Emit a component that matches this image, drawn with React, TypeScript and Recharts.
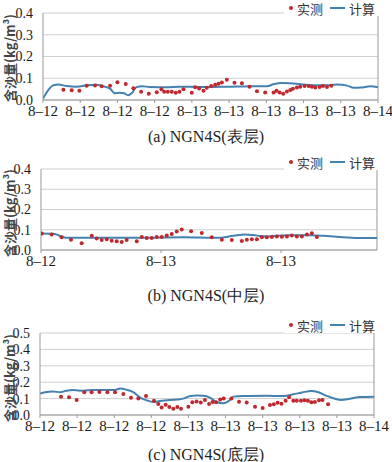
import React from 'react';
import { ComposedChart, Line, Scatter, XAxis, YAxis, CartesianGrid, ReferenceLine } from 'recharts';

// hours since 8-12 00:00, concentration kg/m3
const calcA = [
  [0, 0.007], [1.5, 0.068], [2.2, 0.071], [3.4, 0.064], [4.8, 0.061], [6.3, 0.068], [7.7, 0.07],
  [8.65, 0.063], [9.6, 0.052], [10.3, 0.031], [11.0, 0.033], [11.6, 0.031], [12.2, 0.022], [12.7, 0.031],
  [13.4, 0.059], [14.2, 0.063], [15.3, 0.06], [17.7, 0.059], [19.6, 0.061], [22.5, 0.06], [26.3, 0.061],
  [30.2, 0.063], [32.1, 0.063], [33.0, 0.072], [34.2, 0.078], [35.4, 0.077], [36.9, 0.072], [38.8, 0.068],
  [40.7, 0.068], [42.1, 0.071], [43.6, 0.066], [44.5, 0.056], [45.5, 0.057], [46.9, 0.063], [48, 0.059],
].map(([t, v]) => ({ t, v }));

const obsA = [
  [2.92, 0.047], [4.11, 0.045], [5.21, 0.042], [6.26, 0.066], [7.46, 0.067], [8.41, 0.063], [9.61, 0.066],
  [10.66, 0.082], [11.86, 0.074], [12.95, 0.054], [14.06, 0.038], [15.16, 0.029], [16.3, 0.036], [16.97, 0.049],
  [17.36, 0.038], [17.88, 0.038], [18.45, 0.038], [19.03, 0.033], [19.55, 0.038], [20.13, 0.05], [21.32, 0.033],
  [21.8, 0.059], [22.37, 0.053], [23.0, 0.043], [23.47, 0.056], [24.1, 0.064], [24.67, 0.07], [25.15, 0.075],
  [25.63, 0.081], [26.34, 0.093], [27.44, 0.079], [28.5, 0.077], [29.6, 0.061], [30.65, 0.04], [31.84, 0.035],
  [33.04, 0.035], [33.47, 0.042], [33.9, 0.035], [34.42, 0.029], [34.95, 0.039], [35.43, 0.046], [35.81, 0.052],
  [36.38, 0.057], [36.86, 0.061], [37.48, 0.064], [38.06, 0.064], [38.53, 0.061], [39.01, 0.057], [39.63, 0.06],
  [40.11, 0.064], [40.69, 0.06], [41.31, 0.066],
].map(([t, v]) => ({ t, v }));

const calcB = [
  [0, 0.081], [1.03, 0.08], [1.45, 0.073], [2.14, 0.06], [3.53, 0.06], [6.31, 0.06], [9.1, 0.061],
  [11.9, 0.063], [14.65, 0.06], [16.04, 0.07], [17.0, 0.077], [18.0, 0.071], [18.8, 0.067], [20.5, 0.073],
  [22.2, 0.073], [23.5, 0.07], [25.2, 0.063], [26.6, 0.059], [28, 0.059],
].map(([t, v]) => ({ t, v }));

const obsB = [
  [0.06, 0.081], [0.89, 0.076], [1.72, 0.063], [2.5, 0.051], [3.39, 0.033], [4.23, 0.07], [4.64, 0.057],
  [5.06, 0.05], [5.48, 0.053], [5.89, 0.046], [6.31, 0.043], [6.73, 0.039], [7.14, 0.05], [7.98, 0.043],
  [8.4, 0.064], [8.81, 0.059], [9.23, 0.059], [9.65, 0.064], [10.06, 0.064], [10.48, 0.071], [10.9, 0.079],
  [11.31, 0.091], [11.73, 0.101], [12.51, 0.093], [13.4, 0.084], [14.23, 0.063], [15.07, 0.051], [15.9, 0.049],
  [16.74, 0.044], [17.15, 0.051], [17.57, 0.053], [17.99, 0.053], [18.4, 0.063], [18.82, 0.063], [19.24, 0.064],
  [19.65, 0.067], [20.07, 0.066], [20.49, 0.067], [20.9, 0.071], [21.32, 0.067], [21.74, 0.067], [22.16, 0.076],
  [22.57, 0.083], [22.99, 0.064],
].map(([t, v]) => ({ t, v }));

const calcC = [
  [0, 0.13], [0.7, 0.139], [1.9, 0.143], [2.9, 0.139], [3.8, 0.148], [4.8, 0.152], [6.2, 0.148], [7.7, 0.153],
  [9.6, 0.152], [10.8, 0.153], [11.5, 0.161], [12.5, 0.153], [13.4, 0.139], [14.4, 0.106], [15.3, 0.09],
  [16.3, 0.079], [17.2, 0.085], [18.7, 0.092], [20.1, 0.096], [20.8, 0.103], [21.6, 0.116], [22.5, 0.119],
  [23.5, 0.117], [24.4, 0.106], [25.4, 0.079], [26.3, 0.072], [27.1, 0.085], [27.8, 0.112], [29.2, 0.116],
  [32.6, 0.117], [35.0, 0.116], [36.4, 0.126], [37.8, 0.139], [39.0, 0.146], [40.0, 0.139], [41.2, 0.117],
  [42.4, 0.099], [43.3, 0.092], [44.5, 0.099], [46.0, 0.11], [48, 0.112],
].map(([t, v]) => ({ t, v }));

const obsC = [
  [3.02, 0.112], [4.17, 0.108], [5.27, 0.092], [6.37, 0.139], [7.42, 0.139], [8.53, 0.141], [9.68, 0.139],
  [10.78, 0.139], [11.98, 0.128], [13.08, 0.105], [14.13, 0.101], [15.23, 0.116], [16.38, 0.087], [17.0, 0.067],
  [17.48, 0.045], [18.06, 0.063], [18.59, 0.049], [19.16, 0.038], [19.73, 0.049], [20.26, 0.038], [21.32, 0.051],
  [21.89, 0.078], [22.5, 0.083], [23.1, 0.076], [23.7, 0.092], [24.3, 0.067], [24.8, 0.079], [25.3, 0.078],
  [25.9, 0.094], [26.4, 0.101], [27.5, 0.101], [28.6, 0.081], [29.7, 0.076], [30.9, 0.051], [32.0, 0.043],
  [33.05, 0.061], [33.6, 0.065], [34.15, 0.074], [34.7, 0.069], [35.3, 0.087], [35.8, 0.108], [36.4, 0.087],
  [36.9, 0.087], [37.5, 0.087], [38.0, 0.09], [38.5, 0.087], [39.0, 0.078], [39.5, 0.079], [40.1, 0.09],
  [40.6, 0.092], [41.4, 0.065],
].map(([t, v]) => ({ t, v }));

const ticksFull = [0, 5.333, 10.667, 16, 21.333, 26.667, 32, 37.333, 42.667, 48];
const labelsFull = ['8–12', '8–12', '8–12', '8–12', '8–13', '8–13', '8–13', '8–13', '8–13', '8–14'];
const ticksB = [0, 10, 20];
const labelsB = ['8–12', '8–13', '8–13'];
const yTicks4 = [0, 0.1, 0.2, 0.3, 0.4];
const yTicks5 = [0, 0.1, 0.2, 0.3, 0.4, 0.5];

const LINE = '#4382b0';
const DOT = '#c0282e';
const SERIF = '"Liberation Serif", "DejaVu Serif", serif';
const CJK = '"Noto Sans CJK SC", sans-serif';

const dotShape = (p: any) => <circle cx={p.cx} cy={p.cy} r={2} fill={DOT} />;

const Panel = ({ top, height, marginTop, yWidth, right, xMax, ticks, labels, yTicks, calc, obs }: any) => (
  <div style={{ position: 'absolute', left: 0, top }}>
    <ComposedChart width={392} height={height} margin={{ top: marginTop, right, left: 0, bottom: 0 }}>
      <CartesianGrid vertical={false} stroke="#cfcfcf" />
      <XAxis
        type="number"
        dataKey="t"
        domain={[0, xMax]}
        ticks={ticks}
        interval={0}
        tickFormatter={(v: number) => labels[ticks.indexOf(v)]}
        tickSize={3}
        tickMargin={2}
        stroke="#999"
        tick={{ fill: '#1a1a1a', fontSize: 15, fontFamily: SERIF }}
        allowDataOverflow
      />
      <YAxis
        type="number"
        domain={[0, yTicks[yTicks.length - 1]]}
        ticks={yTicks}
        interval={0}
        width={yWidth}
        tickLine={false}
        tickMargin={4}
        stroke="#999"
        tickFormatter={(v: number) => v.toFixed(1)}
        tick={{ fill: '#1a1a1a', fontSize: 14, fontFamily: SERIF }}
      />
      <ReferenceLine x={xMax} stroke="#999" />
      <Line data={calc} dataKey="v" type="monotone" stroke={LINE} strokeWidth={2} dot={false} isAnimationActive={false} />
      <Scatter data={obs} dataKey="v" shape={dotShape} isAnimationActive={false} />
    </ComposedChart>
  </div>
);

const Legend = ({ top }: { top: number }) => (
  <div style={{ position: 'absolute', left: 284, top, width: 96, height: 16, background: '#fff', display: 'flex', alignItems: 'center', whiteSpace: 'nowrap', fontFamily: CJK, fontSize: 13, color: '#333' }}>
    <span style={{ flex: 'none', width: 4, height: 4, borderRadius: 2, background: DOT, marginLeft: 5, marginRight: 4 }} />
    <span style={{ flex: 'none' }}>实测</span>
    <span style={{ flex: 'none', width: 15, height: 2, background: LINE, marginLeft: 7, marginRight: 4 }} />
    <span style={{ flex: 'none' }}>计算</span>
  </div>
);

const YLabel = ({ cy }: { cy: number }) => (
  <div style={{ position: 'absolute', left: 9, top: cy, transform: 'translate(-50%, -50%) rotate(-90deg)', whiteSpace: 'nowrap', fontFamily: CJK, fontSize: 13, fontWeight: 700, lineHeight: '15px', color: '#444' }}>
    含沙量(kg/m³)
  </div>
);

const Title = ({ top, text }: { top: number; text: string }) => (
  <div style={{ position: 'absolute', left: 0, width: 412, top, textAlign: 'center', whiteSpace: 'nowrap', fontFamily: SERIF, fontSize: 16, color: '#222' }}>
    {text}
  </div>
);

export default function App() {
  return (
    <div style={{ position: 'absolute', left: 0, top: 0, width: 392, height: 462, background: '#fff', overflow: 'hidden' }}>
      <Panel top={0} height={130} marginTop={13} yWidth={43} right={14} xMax={48} ticks={ticksFull} labels={labelsFull} yTicks={yTicks4} calc={calcA} obs={obsA} />
      <Panel top={150} height={130} marginTop={19} yWidth={41} right={15} xMax={28} ticks={ticksB} labels={labelsB} yTicks={yTicks4} calc={calcB} obs={obsB} />
      <Panel top={310} height={135} marginTop={23} yWidth={40} right={18} xMax={48} ticks={ticksFull} labels={labelsFull} yTicks={yTicks5} calc={calcC} obs={obsC} />
      <Legend top={0} />
      <Legend top={154} />
      <Legend top={317} />
      <YLabel cy={58} />
      <YLabel cy={213} />
      <YLabel cy={378} />
      <Title top={127} text="(a) NGN4S(表层)" />
      <Title top={286} text="(b) NGN4S(中层)" />
      <Title top={445} text="(c) NGN4S(底层)" />
    </div>
  );
}
